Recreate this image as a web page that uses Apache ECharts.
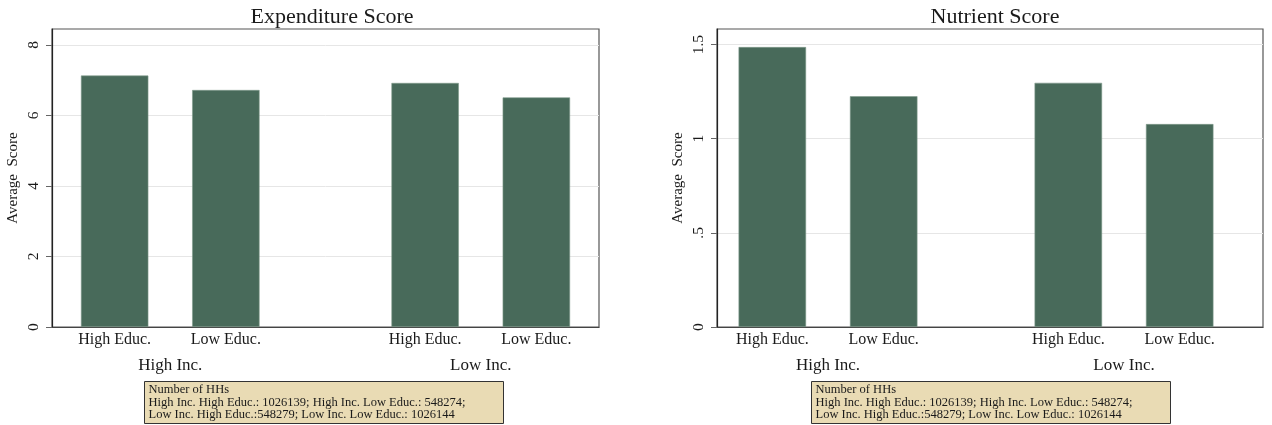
<!DOCTYPE html>
<html>
<head>
<meta charset="utf-8">
<script src="https://cdn.jsdelivr.net/npm/echarts@6/dist/echarts.min.js"></script>
<style>
html,body{margin:0;padding:0;background:#fff;}
#chart{width:1272px;height:425px;}
</style>
</head>
<body>
<div id="chart"></div>
<script>
// ---- data ----
const incomeGroups = ['High Inc.', 'Low Inc.'];
const educLevels = ['High Educ.', 'Low Educ.'];
const expHighEduc = [7.13, 6.92];
const expLowEduc = [6.72, 6.51];
const nutHighEduc = [1.487, 1.297];
const nutLowEduc = [1.226, 1.078];
const expTicks = [0, 2, 4, 6, 8];
const nutTicks = [0, 0.5, 1, 1.5];
const panelTitles = ['Expenditure Score', 'Nutrient Score'];
const yAxisTitle = 'Average  Score';
const noteLines = [
  'Number of HHs',
  'High Inc. High Educ.: 1026139; High Inc. Low Educ.: 548274;',
  'Low Inc. High Educ.:548279; Low Inc. Low Educ.: 1026144'
];

// ---- styling ----
const FONT = '"Liberation Serif", "Times New Roman", serif';
const BAR = '#486A5A';
const TXT = '#1a1a1a';

const chart = echarts.init(document.getElementById('chart'), null, {renderer: 'canvas'});

function nutFmt(v) { return String(v).replace(/^0\./, '.'); }

const panels = [
  {frameLeft: 52, frameWidth: 547, dataLeft: 15, dataWidth: 621, max: 8.45, interval: 2, ticks: expTicks, fmt: v => String(v), hi: expHighEduc, lo: expLowEduc, barW: 67.4, titleX: 327, noteX: 144},
  {frameLeft: 717, frameWidth: 546, dataLeft: 680, dataWidth: 620.4, max: 1.583, interval: 0.5, ticks: nutTicks, fmt: nutFmt, hi: nutHighEduc, lo: nutLowEduc, barW: 67.5, titleX: 990, noteX: 811}
];

const TOP = 29, H = 298;
const grid = [], xAxis = [], yAxis = [], series = [], title = [], graphic = [];

panels.forEach((p, i) => {
  const gf = grid.length;
  grid.push({left: p.frameLeft, top: TOP, width: p.frameWidth, height: H, show: true, borderColor: '#555', borderWidth: 1.2, backgroundColor: '#fff', containLabel: false});
  grid.push({left: p.dataLeft, top: TOP, width: p.dataWidth, height: H, containLabel: false});
  // frame axes
  xAxis.push({gridIndex: gf, type: 'category', data: incomeGroups, axisLine: {show: true, lineStyle: {color: '#444', width: 1.2}}, axisTick: {show: false}, axisLabel: {show: false}, splitLine: {show: false}});
  yAxis.push({gridIndex: gf, type: 'value', min: 0, max: p.max, interval: p.interval,
    name: yAxisTitle, nameLocation: 'middle', nameGap: 31, nameRotate: 90,
    nameTextStyle: {fontFamily: FONT, fontSize: 15, color: TXT},
    axisLine: {show: true, lineStyle: {color: '#222', width: 1.2}},
    axisTick: {show: true, length: 6, lineStyle: {color: '#666'}, customValues: p.ticks},
    axisLabel: {show: true, rotate: 90, margin: 10, fontFamily: FONT, fontSize: 15.5, color: TXT, formatter: p.fmt, customValues: p.ticks},
    splitLine: {show: true, lineStyle: {color: '#e6e6e6', width: 1}}
  });
  // data axes
  xAxis.push({gridIndex: gf + 1, type: 'category', data: incomeGroups, axisLine: {show: false}, axisTick: {show: false},
    axisLabel: {show: true, margin: 30, fontFamily: FONT, fontSize: 17, color: TXT}});
  yAxis.push({gridIndex: gf + 1, type: 'value', min: 0, max: p.max, show: false});
  [p.hi, p.lo].forEach((vals, k) => {
    series.push({
      type: 'bar', name: educLevels[k], xAxisIndex: gf + 1, yAxisIndex: gf + 1,
      data: vals, barWidth: p.barW, barGap: '65%',
      itemStyle: {color: BAR, borderColor: '#7f9a8b', borderWidth: 0.6},
      label: {show: true, position: 'bottom', distance: 5, formatter: '{a}', fontFamily: FONT, fontSize: 16, color: TXT},
      silent: true, animation: false
    });
  });
  title.push({text: panelTitles[i], left: p.titleX, top: 1, textAlign: 'center',
    textStyle: {fontFamily: FONT, fontSize: 22, fontWeight: 'normal', color: TXT}});
  graphic.push({type: 'group', left: p.noteX, top: 381, children: [
    {type: 'rect', shape: {x: 0, y: 0, width: 359, height: 42}, style: {fill: '#E9DBB4', stroke: '#333', lineWidth: 1}},
    {type: 'text', x: 4, y: 2, style: {text: noteLines.join('\n'), fontFamily: FONT, fontSize: 12.5, lineHeight: 12.6, fill: TXT}}
  ]});
});

chart.setOption({
  animation: false,
  backgroundColor: '#fff',
  title, grid, xAxis, yAxis, series, graphic
});
</script>
</body>
</html>
